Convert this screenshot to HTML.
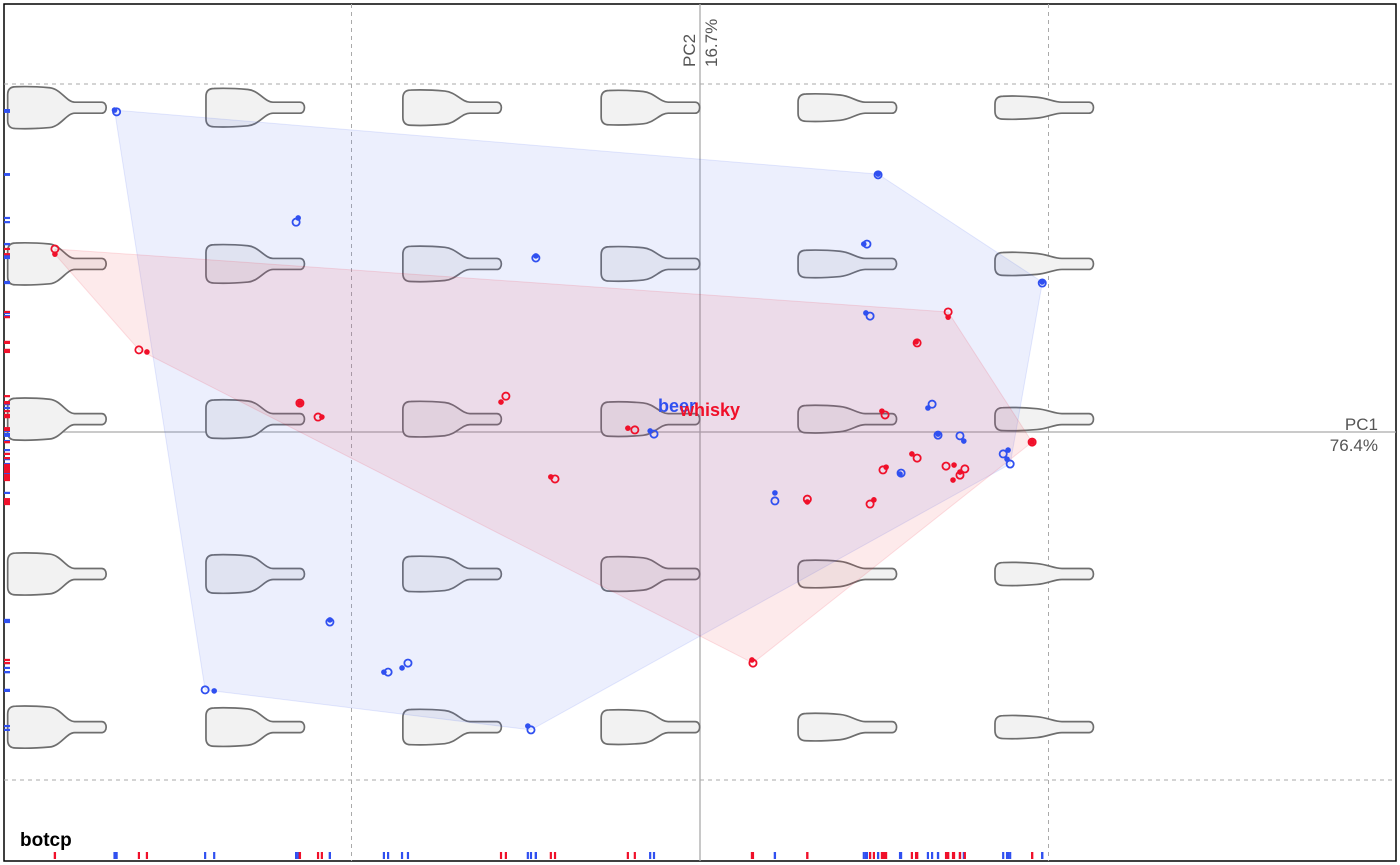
<!DOCTYPE html>
<html><head><meta charset="utf-8"><style>
html,body{margin:0;padding:0;background:#fff}
svg{display:block;font-family:"Liberation Sans",sans-serif}
</style></head><body>
<svg id="chart" width="1400" height="865" viewBox="0 0 1400 865">
<rect x="4" y="4" width="1392" height="857" fill="#fff" stroke="#000" stroke-width="1.5"/>
<g id="grid"></g>
<g id="bottles"></g>
<g id="hulls"></g>
<g id="points"></g>
<g id="rugs"></g>
<text x="658" y="412" font-size="18" font-weight="bold" fill="#3050f0">beer</text>
<text x="680" y="416" font-size="18" font-weight="bold" fill="#f0102a">whisky</text>
<text transform="translate(695,67) rotate(-90)" font-size="17" fill="#555">PC2</text>
<text transform="translate(717,67) rotate(-90)" font-size="17" fill="#555">16.7%</text>
<text x="1378" y="430" font-size="17" fill="#555" text-anchor="end">PC1</text>
<text x="1378" y="451" font-size="17" fill="#555" text-anchor="end">76.4%</text>
<text x="20" y="846" font-size="19" font-weight="bold" fill="#000">botcp</text>
</svg>
<script>
// Data in PC units (grid lines at +-1)
const beerPC1 = [-1.674,0.511,-1.159,-0.471,0.479,0.488,0.666,0.683,0.746,0.982,0.870,0.890,0.577,0.215,-0.132,-1.062,-0.895,-0.838,-1.420,-0.485];
const beerPC2 = [0.920,0.739,0.603,0.500,0.540,0.333,0.080,-0.009,-0.011,0.428,-0.063,-0.092,-0.118,-0.198,-0.006,-0.546,-0.690,-0.664,-0.741,-0.856];
const beerDot1 = [-1.680,0.511,-1.153,-0.471,0.470,0.476,0.654,0.683,0.757,0.982,0.884,0.881,0.574,0.215,-0.143,-1.062,-0.907,-0.855,-1.394,-0.494];
const beerDot2 = [0.925,0.741,0.615,0.506,0.540,0.342,0.069,-0.006,-0.026,0.431,-0.052,-0.078,-0.121,-0.175,0.003,-0.540,-0.690,-0.678,-0.744,-0.845];
const whiskyPC1 = [-1.851,-1.610,-1.148,-1.096,-0.557,-0.416,-0.187,0.152,0.308,0.488,0.531,0.525,0.623,0.623,0.712,0.706,0.760,0.746,0.953];
const whiskyPC2 = [0.526,0.236,0.083,0.043,0.103,-0.135,0.006,-0.664,-0.193,-0.207,0.049,-0.109,-0.075,0.256,0.345,-0.098,-0.106,-0.124,-0.029];
const whiskyDot1 = [-1.851,-1.587,-1.148,-1.085,-0.571,-0.428,-0.207,0.149,0.308,0.499,0.522,0.534,0.608,0.620,0.712,0.729,0.746,0.726,0.953];
const whiskyDot2 = [0.511,0.230,0.083,0.043,0.086,-0.129,0.011,-0.655,-0.201,-0.195,0.060,-0.101,-0.063,0.259,0.330,-0.095,-0.115,-0.138,-0.029];
const gridTicks = [-1, 1];
const shapeCols = [-1.846,-1.277,-0.712,-0.143,0.422,0.987];
const shapeRows = [0.932,0.483,0.037,-0.408,-0.848];
const shapeThick = [0.95,0.87,0.8,0.78,0.62,0.52];

const X0=700, Y0=432, SX=348.5, SY=348;
const xs = v => X0 + v*SX;
const ys = v => Y0 - v*SY;
const NS="http://www.w3.org/2000/svg";
function mk(tag, attrs, parent){const e=document.createElementNS(NS,tag);for(const k in attrs)e.setAttribute(k,attrs[k]);parent.appendChild(e);return e;}

const grid=document.getElementById('grid');
gridTicks.forEach(t=>{
  const l=mk('line',{x1:xs(t),x2:xs(t),y1:4,y2:861,stroke:'#aaa','stroke-dasharray':'4,4'},grid);
  
  
  const h=mk('line',{x1:4,x2:1396,y1:ys(t),y2:ys(t),stroke:'#aaa','stroke-dasharray':'4,4'},grid);
  
  
});
const ax1=mk('line',{x1:4,x2:1396,y1:ys(0),y2:ys(0),stroke:'#aaa','stroke-width':1.3},grid);


const ax2=mk('line',{x1:xs(0),x2:xs(0),y1:4,y2:861,stroke:'#aaa','stroke-width':1.3},grid);



const bottles=document.getElementById('bottles');
shapeCols.forEach((c,ci)=>{
  shapeRows.forEach((r,ri)=>{
    const cx=xs(c), cy=ys(r), t=shapeThick[ci];
    const H=22*t, N=5.5, L=-49, B=-7, S=18, R=50, rr=Math.min(8,H-2);
    const d=`M${cx+L+rr},${cy-H} C${cx-30},${cy-H-0.5} ${cx-18},${cy-H} ${cx+B},${cy-H+1} C${cx+4},${cy-H+2} ${cx+10},${cy-N} ${cx+S},${cy-N} L${cx+R-5},${cy-N} C${cx+R+1},${cy-N} ${cx+R+1},${cy+N} ${cx+R-5},${cy+N} L${cx+S},${cy+N} C${cx+10},${cy+N} ${cx+4},${cy+H-2} ${cx+B},${cy+H-1} C${cx-18},${cy+H} ${cx-30},${cy+H+0.5} ${cx+L+rr},${cy+H} Q${cx+L},${cy+H} ${cx+L},${cy+H-rr} L${cx+L},${cy-H+rr} Q${cx+L},${cy-H} ${cx+L+rr},${cy-H} Z`;
    const p=mk('path',{d:d,fill:'#f2f2f2',stroke:'#6e6e6e','stroke-width':1.7},bottles);
    
    
  });
});

function hull(pts){
  pts=pts.slice().sort((a,b)=>a[0]-b[0]||a[1]-b[1]);
  const cr=(o,a,b)=>(a[0]-o[0])*(b[1]-o[1])-(a[1]-o[1])*(b[0]-o[0]);
  const lo=[],up=[];
  for(const p of pts){while(lo.length>=2&&cr(lo[lo.length-2],lo[lo.length-1],p)<=0)lo.pop();lo.push(p);}
  for(const p of pts.slice().reverse()){while(up.length>=2&&cr(up[up.length-2],up[up.length-1],p)<=0)up.pop();up.push(p);}
  return lo.slice(0,-1).concat(up.slice(0,-1));
}
const hulls=document.getElementById('hulls');
const groups=[
  {name:'beer',a:beerPC1,b:beerPC2,da:beerDot1,db:beerDot2,col:'#3050f0',fill:'rgba(80,110,240,0.11)'},
  {name:'whisky',a:whiskyPC1,b:whiskyPC2,da:whiskyDot1,db:whiskyDot2,col:'#f0102a',fill:'rgba(240,60,70,0.11)'}
];
groups.forEach(g=>{
  const pts=g.a.map((v,i)=>[xs(v),ys(g.b[i])]).concat(g.da.map((v,i)=>[xs(v),ys(g.db[i])]));
  const h=hull(pts);
  const poly=mk('polygon',{points:h.map(p=>p.join(',')).join(' '),fill:g.fill,stroke:g.col,'stroke-opacity':0.12},hulls);
  
  
});
const pg=document.getElementById('points'), rg=document.getElementById('rugs');
groups.forEach(g=>{
  g.a.forEach((v,i)=>{
    const d=mk('circle',{cx:xs(g.da[i]),cy:ys(g.db[i]),r:2.8,fill:g.col},pg);
    
    
    const c=mk('circle',{cx:xs(v),cy:ys(g.b[i]),r:3.6,fill:'none',stroke:g.col,'stroke-width':1.8},pg);
    
    
    [[v,g.b[i]],[g.da[i],g.db[i]]].forEach(pt=>{
      const rx=mk('line',{x1:xs(pt[0]),x2:xs(pt[0]),y1:852,y2:859,stroke:g.col,'stroke-width':2.2},rg);
      
      
      const ry=mk('line',{x1:4,x2:10,y1:ys(pt[1]),y2:ys(pt[1]),stroke:g.col,'stroke-width':2.2},rg);
      
      
    });
  });
});
</script>
</body></html>
